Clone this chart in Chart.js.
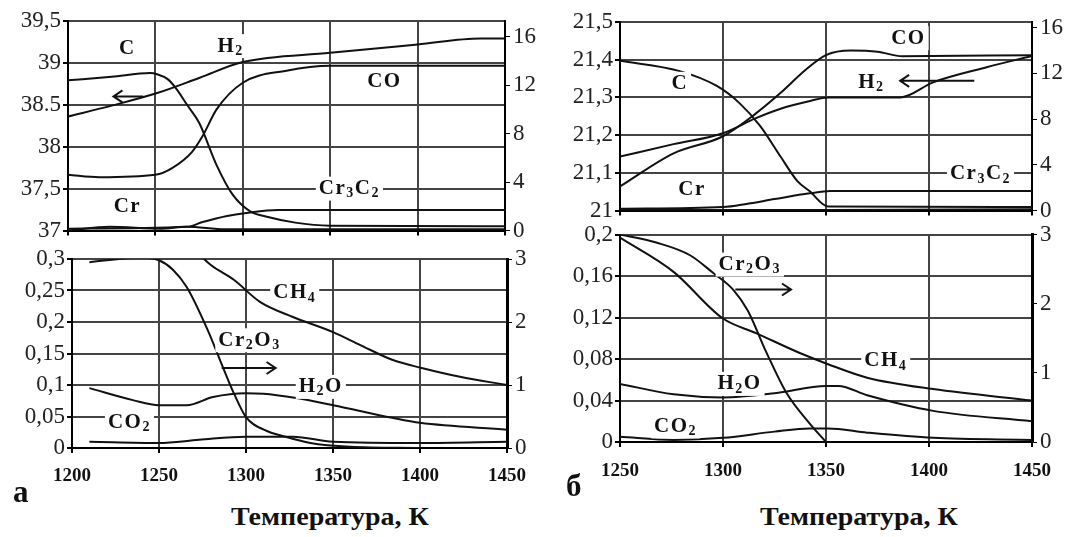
<!DOCTYPE html>
<html>
<head>
<meta charset="utf-8">
<script src="https://cdn.jsdelivr.net/npm/chart.js@4.4.1/dist/chart.umd.min.js"></script>
<style>
body { margin:0; background:#fff; width:1074px; height:537px; position:relative; overflow:hidden; font-family:'Liberation Serif', serif; }
canvas { position:absolute; }
.t { position:absolute; font-weight:bold; color:#111; white-space:nowrap; transform-origin:left top; }
</style>
</head>
<body>
<canvas id="aTop" width="550" height="245" style="left:0;top:0"></canvas>
<canvas id="aBot" width="550" height="260" style="left:0;top:240px"></canvas>
<canvas id="bTop" width="524" height="225" style="left:550px;top:0"></canvas>
<canvas id="bBot" width="524" height="280" style="left:550px;top:220px"></canvas>
<div class="t" style="left:13px;top:474px;font-size:31px">а</div>
<div class="t" style="left:566px;top:468px;font-size:31px">б</div>
<div class="t" style="left:231px;top:503px;font-size:25px;transform:scaleX(1.12)">Температура, К</div>
<div class="t" style="left:760px;top:503px;font-size:25px;transform:scaleX(1.12)">Температура, К</div>
<script>
// ---- а, верх ----
var aTopC_T = [1200, 1225, 1247, 1251, 1257, 1262, 1268, 1275, 1285, 1294, 1304, 1315, 1330, 1350, 1450];
var aTopC   = [12.4, 12.7, 13.0, 12.9, 12.5, 11.7, 10.4, 8.9, 5.4, 3.0, 1.6, 1.1, 0.65, 0.4, 0.35];
var aTopH2_T = [1200, 1225, 1251, 1275, 1300, 1350, 1400, 1436, 1450];
var aTopH2   = [38.36, 38.49, 38.64, 38.82, 39.01, 39.12, 39.22, 39.29, 39.29];
var aTopCO_T = [1200, 1218, 1250, 1260, 1271, 1277, 1285, 1300, 1325, 1350, 1450];
var aTopCO   = [4.6, 4.4, 4.6, 5.2, 6.5, 7.8, 10.0, 12.2, 13.2, 13.6, 13.6];
var aTopCr3C2_T = [1200, 1268, 1277, 1291, 1302, 1320, 1450];
var aTopCr3C2   = [0.15, 0.3, 0.7, 1.2, 1.45, 1.7, 1.7];
var aTopCr_T = [1200, 1224, 1253, 1268, 1290, 1450];
var aTopCr   = [0.0, 0.3, 0.15, 0.3, 0.1, 0.1];

// ---- а, низ ----
var aBotCr2O3_T = [1210, 1240, 1250, 1258, 1266, 1278, 1285, 1293, 1300, 1312, 1320, 1337, 1360, 1400];
var aBotCr2O3   = [2.95, 3.02, 2.98, 2.83, 2.55, 1.87, 1.40, 0.87, 0.49, 0.27, 0.2, 0.08, 0.02, 0.0];
var aBotCH4_T = [1272, 1280, 1293, 1308, 1327, 1350, 1366, 1384, 1401, 1423, 1450];
var aBotCH4   = [0.31, 0.29, 0.267, 0.232, 0.208, 0.184, 0.163, 0.14, 0.127, 0.113, 0.1];
var aBotH2O_T = [1210, 1235, 1250, 1266, 1281, 1300, 1310, 1327, 1350, 1384, 1400, 1450];
var aBotH2O   = [0.095, 0.076, 0.068, 0.068, 0.081, 0.087, 0.086, 0.08, 0.068, 0.048, 0.04, 0.029];
var aBotCO2_T = [1210, 1250, 1273, 1300, 1327, 1350, 1400, 1450];
var aBotCO2   = [0.01, 0.008, 0.013, 0.018, 0.018, 0.01, 0.008, 0.01];

// ---- б, верх ----
var bTopC_T = [1250, 1279, 1297, 1308, 1318, 1328, 1336, 1342, 1351, 1450];
var bTopC   = [13.1, 12.2, 10.9, 9.4, 7.4, 4.7, 2.6, 1.7, 0.35, 0.3];
var bTopCO_T = [1250, 1276, 1300, 1316, 1328, 1340, 1350, 1362, 1375, 1387, 1450];
var bTopCO   = [2.1, 5.0, 6.5, 8.5, 10.3, 12.3, 13.6, 14.0, 13.9, 13.5, 13.6];
var bTopH2_T = [1250, 1276, 1300, 1316, 1328, 1342, 1351, 1374, 1386, 1402, 1428, 1450];
var bTopH2   = [21.143, 21.176, 21.205, 21.245, 21.27, 21.29, 21.30, 21.30, 21.30, 21.34, 21.38, 21.41];
var bTopCr3C2_T = [1250, 1300, 1312, 1325, 1342, 1352, 1450];
var bTopCr3C2   = [0.15, 0.3, 0.6, 1.0, 1.5, 1.7, 1.7];
var bTopCr_T = [1250, 1300, 1350, 1450];
var bTopCr   = [0.05, 0.05, 0.05, 0.1];

// ---- б, низ ----
var bBotCr2O3_T = [1250, 1268, 1284, 1295, 1305, 1312, 1321, 1331, 1342, 1350];
var bBotCr2O3   = [3.0, 2.88, 2.7, 2.45, 2.2, 1.9, 1.3, 0.7, 0.27, 0.0];
var bBotCH4_T = [1250, 1276, 1300, 1316, 1337, 1351, 1370, 1402, 1450];
var bBotCH4   = [0.197, 0.164, 0.119, 0.105, 0.086, 0.075, 0.062, 0.051, 0.04];
var bBotH2O_T = [1250, 1276, 1300, 1325, 1350, 1356, 1370, 1402, 1450];
var bBotH2O   = [0.056, 0.046, 0.043, 0.047, 0.054, 0.054, 0.045, 0.03, 0.02];
var bBotCO2_T = [1250, 1276, 1300, 1325, 1342, 1351, 1370, 1402, 1450];
var bBotCO2   = [0.005, 0.002, 0.004, 0.01, 0.013, 0.013, 0.009, 0.004, 0.002];

// ---- подписи осей ----
var xTicksA = [1200, 1250, 1300, 1350, 1400, 1450];
var xTicksB = [1250, 1300, 1350, 1400, 1450];
var aTopTicks = [37, 37.5, 38, 38.5, 39, 39.5];
var aTopLabels = ['37', '37,5', '38', '38.5', '39', '39,5'];
var aBotTicks = [0, 0.05, 0.1, 0.15, 0.2, 0.25, 0.3];
var aBotLabels = ['0', '0,05', '0,1', '0,15', '0,2', '0,25', '0,3'];
var bTopTicks = [21, 21.1, 21.2, 21.3, 21.4, 21.5];
var bTopLabels = ['21', '21,1', '21,2', '21,3', '21,4', '21,5'];
var bBotTicks = [0, 0.04, 0.08, 0.12, 0.16, 0.2];
var bBotLabels = ['0', '0,04', '0,08', '0,12', '0,16', '0,2'];
var rightTop = [0, 4, 8, 12, 16];
var rightBot = [0, 1, 2, 3];

var serif = "'Liberation Serif', 'Times New Roman', serif";

function pts(T, V) {
    return T.map(function (t, i) { return { x: t, y: V[i] }; });
}
function line(T, V, axis) {
    return { data: pts(T, V), yAxisID: axis, borderColor: '#111', borderWidth: 2,
             pointRadius: 0, cubicInterpolationMode: 'monotone', fill: false };
}

// подписи веществ и стрелки
function drawFormula(ctx, text, cx, cy) {
    var big = 'bold 21px ' + serif, small = 'bold 14px ' + serif;
    var w = 0, parts = [];
    for (var i = 0; i < text.length; i++) {
        var ch = text[i], sub = /[0-9]/.test(ch);
        ctx.font = sub ? small : big;
        var cw = ctx.measureText(ch).width + 1.5;
        parts.push([ch, sub, cw]);
        w += cw;
    }
    ctx.fillStyle = '#fff';
    ctx.fillRect(cx - w / 2 - 3, cy - 12, w + 6, 24);
    ctx.fillStyle = '#111';
    ctx.textBaseline = 'middle';
    ctx.textAlign = 'left';
    var x = cx - w / 2;
    parts.forEach(function (p) {
        ctx.font = p[1] ? small : big;
        ctx.fillText(p[0], x, p[1] ? cy + 5 : cy);
        x += p[2];
    });
}
var notes = {
    id: 'notes',
    afterDatasetsDraw: function (chart, args, opts) {
        var ctx = chart.ctx, xs = chart.scales.x;
        ctx.save();
        (opts.arrows || []).forEach(function (a) {
            var ys = chart.scales[a.axis];
            var x1 = xs.getPixelForValue(a.x1), x2 = xs.getPixelForValue(a.x2), y = ys.getPixelForValue(a.y);
            var d = x2 > x1 ? -1 : 1;
            ctx.strokeStyle = '#111';
            ctx.lineWidth = 2;
            ctx.beginPath();
            ctx.moveTo(x1, y); ctx.lineTo(x2, y);
            ctx.moveTo(x2 + d * 9, y - 6); ctx.lineTo(x2, y); ctx.lineTo(x2 + d * 9, y + 6);
            ctx.stroke();
        });
        (opts.labels || []).forEach(function (l) {
            var ys = chart.scales[l.axis];
            drawFormula(ctx, l.text, xs.getPixelForValue(l.x), ys.getPixelForValue(l.y));
        });
        ctx.restore();
    }
};

function panel(id, c) {
    return new Chart(document.getElementById(id), {
        type: 'line',
        data: { datasets: c.datasets },
        options: {
            responsive: false,
            animation: false,
            layout: { padding: { top: c.padTop, left: 0, right: 0, bottom: 0 } },
            plugins: {
                legend: { display: false },
                tooltip: { enabled: false },
                notes: { labels: c.labels, arrows: c.arrows }
            },
            scales: {
                x: {
                    type: 'linear', min: c.xTicks[0], max: 1450,
                    afterBuildTicks: function (s) { s.ticks = c.xTicks.map(function (v) { return { value: v }; }); },
                    afterFit: function (s) { s.height = c.xH; },
                    grid: { color: '#444', lineWidth: 2, tickLength: 5, tickColor: '#000' },
                    border: { display: true, color: '#000', width: 2 },
                    ticks: { display: c.showX, padding: c.xPad, color: '#111', maxRotation: 0,
                             font: { family: serif, size: 19, weight: 'bold' },
                             callback: function (v) { return String(v); } }
                },
                y: {
                    position: 'left', min: c.yTicks[0], max: c.yTicks[c.yTicks.length - 1],
                    afterBuildTicks: function (s) { s.ticks = c.yTicks.map(function (v) { return { value: v }; }); },
                    afterFit: function (s) { s.width = c.yW; },
                    grid: { color: '#444', lineWidth: 2, tickLength: 5, tickColor: '#000' },
                    border: { display: true, color: '#000', width: 2 },
                    ticks: { color: '#222', padding: 2, font: { family: serif, size: 23, lineHeight: 1 },
                             callback: function (v) { return c.yLabels[c.yTicks.indexOf(v)]; } }
                },
                y1: {
                    position: 'right', min: 0, max: c.rMax,
                    afterBuildTicks: function (s) { s.ticks = c.rTicks.map(function (v) { return { value: v }; }); },
                    afterFit: function (s) { s.width = c.rW; },
                    grid: { drawOnChartArea: false, tickLength: 5, color: '#000' },
                    border: { display: true, color: '#000', width: c.rBorder },
                    ticks: { color: '#222', padding: 3, font: { family: serif, size: 23, lineHeight: 1 },
                             callback: function (v) { return String(v); } }
                }
            }
        },
        plugins: [notes]
    });
}

panel('aTop', {
    datasets: [
        line(aTopH2_T, aTopH2, 'y'),
        line(aTopC_T, aTopC, 'y1'),
        line(aTopCO_T, aTopCO, 'y1'),
        line(aTopCr3C2_T, aTopCr3C2, 'y1'),
        line(aTopCr_T, aTopCr, 'y1')
    ],
    xTicks: xTicksA, showX: false, xH: 12, xPad: 0, padTop: 21, yW: 68, rW: 45, rBorder: 2,
    yTicks: aTopTicks, yLabels: aTopLabels, rTicks: rightTop, rMax: 17.3,
    labels: [
        { text: 'C', x: 1234, y: 39.17, axis: 'y' },
        { text: 'H2', x: 1293, y: 39.2, axis: 'y' },
        { text: 'CO', x: 1381, y: 38.78, axis: 'y' },
        { text: 'Cr', x: 1234, y: 37.28, axis: 'y' },
        { text: 'Cr3C2', x: 1361, y: 37.5, axis: 'y' }
    ],
    arrows: [{ x1: 1243, x2: 1226, y: 38.6, axis: 'y' }]
});

panel('aBot', {
    datasets: [
        line(aBotCr2O3_T, aBotCr2O3, 'y1'),
        line(aBotCH4_T, aBotCH4, 'y'),
        line(aBotH2O_T, aBotH2O, 'y'),
        line(aBotCO2_T, aBotCO2, 'y')
    ],
    xTicks: xTicksA, showX: true, xH: 52, xPad: 12, padTop: 19, yW: 72, rW: 43, rBorder: 3,
    yTicks: aBotTicks, yLabels: aBotLabels, rTicks: rightBot, rMax: 3,
    labels: [
        { text: 'CH4', x: 1328, y: 0.246, axis: 'y' },
        { text: 'Cr2O3', x: 1302, y: 0.171, axis: 'y' },
        { text: 'H2O', x: 1343, y: 0.097, axis: 'y' },
        { text: 'CO2', x: 1233, y: 0.04, axis: 'y' }
    ],
    arrows: [{ x1: 1286, x2: 1317, y: 0.127, axis: 'y' }]
});

panel('bTop', {
    datasets: [
        line(bTopH2_T, bTopH2, 'y'),
        line(bTopC_T, bTopC, 'y1'),
        line(bTopCO_T, bTopCO, 'y1'),
        line(bTopCr3C2_T, bTopCr3C2, 'y1'),
        line(bTopCr_T, bTopCr, 'y1')
    ],
    xTicks: xTicksB, showX: false, xH: 12, xPad: 0, padTop: 22, yW: 70, rW: 42, rBorder: 2,
    yTicks: bTopTicks, yLabels: bTopLabels, rTicks: rightTop, rMax: 16.5,
    labels: [
        { text: 'C', x: 1279, y: 21.336, axis: 'y' },
        { text: 'CO', x: 1390, y: 21.457, axis: 'y' },
        { text: 'H2', x: 1372, y: 21.339, axis: 'y' },
        { text: 'Cr', x: 1285, y: 21.056, axis: 'y' },
        { text: 'Cr3C2', x: 1425, y: 21.097, axis: 'y' }
    ],
    arrows: [{ x1: 1422, x2: 1386, y: 21.344, axis: 'y' }]
});

panel('bBot', {
    datasets: [
        line(bBotCr2O3_T, bBotCr2O3, 'y1'),
        line(bBotCH4_T, bBotCH4, 'y'),
        line(bBotH2O_T, bBotH2O, 'y'),
        line(bBotCO2_T, bBotCO2, 'y')
    ],
    xTicks: xTicksB, showX: true, xH: 58, xPad: 13, padTop: 12, yW: 70, rW: 42, rBorder: 3,
    yTicks: bBotTicks, yLabels: bBotLabels, rTicks: rightBot, rMax: 3,
    labels: [
        { text: 'Cr2O3', x: 1313, y: 0.171, axis: 'y' },
        { text: 'CH4', x: 1379, y: 0.078, axis: 'y' },
        { text: 'H2O', x: 1308, y: 0.056, axis: 'y' },
        { text: 'CO2', x: 1277, y: 0.015, axis: 'y' }
    ],
    arrows: [{ x1: 1306, x2: 1333, y: 0.147, axis: 'y' }]
});
</script>
</body>
</html>
